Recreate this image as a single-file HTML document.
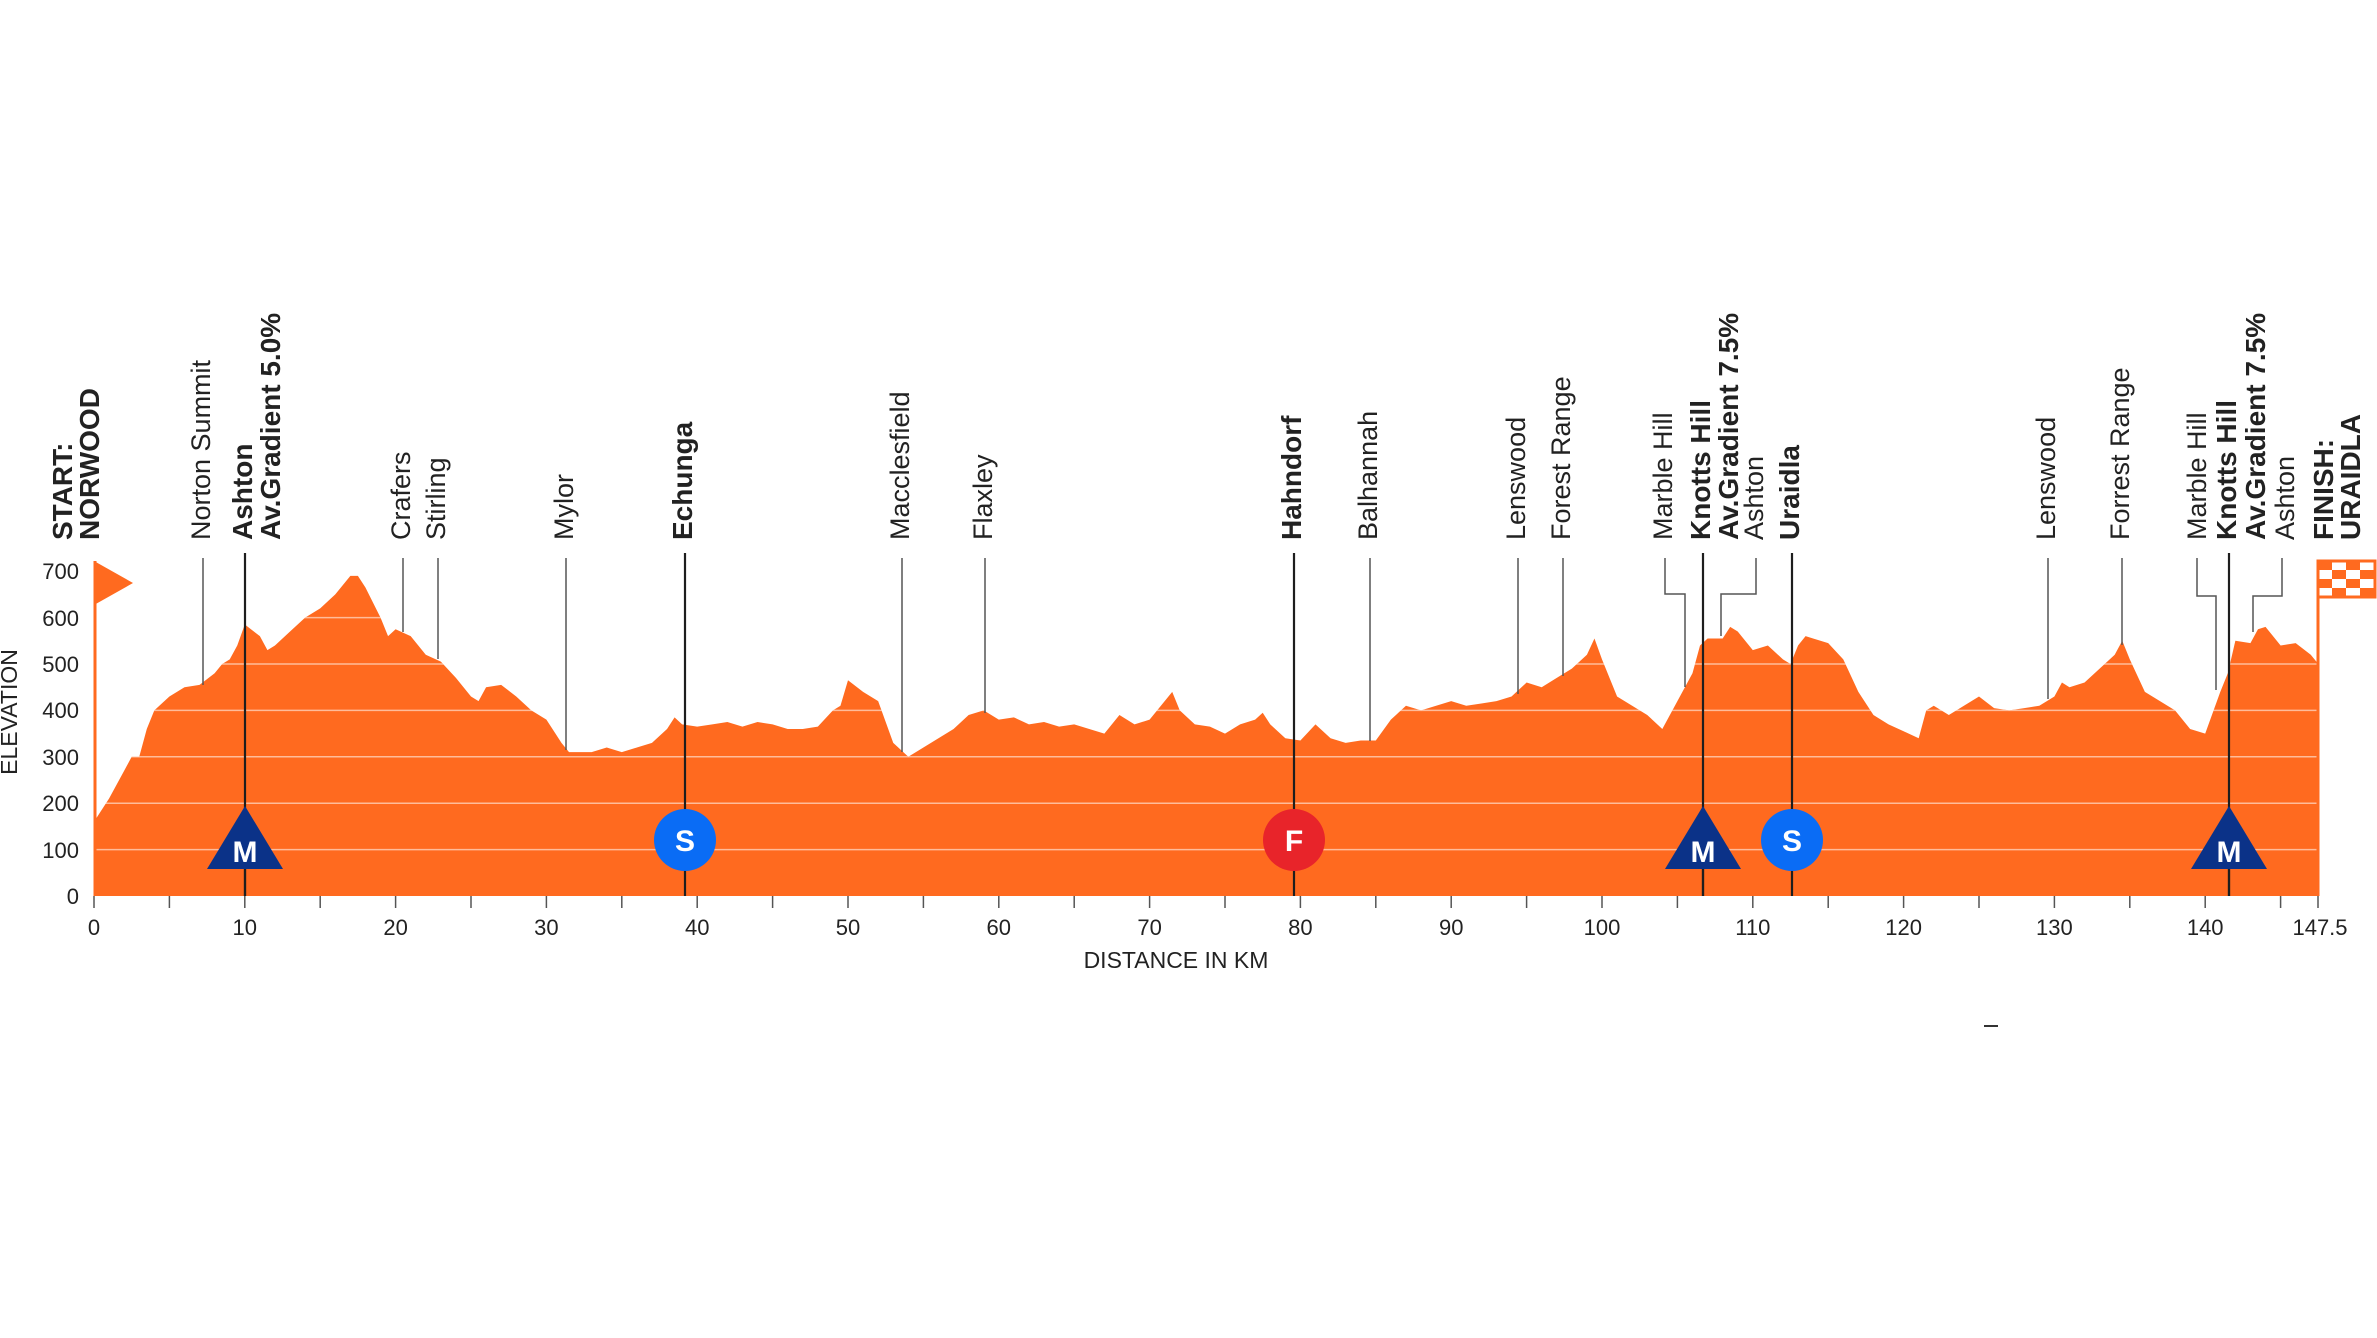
<!DOCTYPE html>
<html><head><meta charset="utf-8"><style>
html,body{margin:0;padding:0;background:#fff;}
svg{display:block;font-family:"Liberation Sans",Arial,sans-serif;}
</style></head><body>
<svg width="2377" height="1338" viewBox="0 0 2377 1338" xmlns="http://www.w3.org/2000/svg">
<defs>
<clipPath id="pc"><polygon transform="translate(94,896) scale(15.08,-0.464)" points="0,0 0,160 1,210 2,270 2.5,300 3,300 3.5,360 4,400 5,430 6,450 7,455 8,480 8.5,500 9,510 9.5,540 10,585 11,560 11.5,530 12,540 13,570 14,600 15,620 16,650 17,690 17.5,690 18,665 19,600 19.5,560 20,575 21,560 22,520 23,505 24,470 25,430 25.5,420 26,450 27,455 28,430 29,400 30,380 31,330 31.5,310 33,310 34,320 35,310 36,320 37,330 38,360 38.5,385 39,370 40,365 41,370 42,375 43,365 44,375 45,370 46,360 47,360 48,365 49,400 49.5,410 50,465 51,440 52,420 53,330 54,300 55,320 56,340 57,360 58,390 59,400 60,380 61,385 62,370 63,375 64,365 65,370 66,360 67,350 68,390 69,370 70,380 71,420 71.5,440 72,400 73,370 74,365 75,350 76,370 77,380 77.5,395 78,370 79,340 80,335 81,370 82,340 83,330 84,335 85,335 86,380 87,410 88,400 89,410 90,420 91,410 92,415 93,420 94,430 95,460 96,450 97,470 98,490 99,520 99.5,555 100,510 101,430 102,410 103,390 104,360 105,420 106,480 106.5,540 107,555 108,555 108.5,580 109,570 110,530 111,540 112,510 112.5,500 113,540 113.5,560 114,555 115,545 116,510 117,440 118,390 119,370 120,355 121,340 121.5,400 122,410 123,390 124,410 125,430 126,405 127,400 128,405 129,410 130,430 130.5,460 131,450 132,460 133,490 134,520 134.5,550 135,510 136,440 137,420 138,400 139,360 140,350 141,440 141.5,480 142,550 143,545 143.5,575 144,580 145,540 146,545 147,520 147.5,500 147.5,0"/></clipPath>
</defs>
<rect x="90" y="500" width="2240" height="400" fill="#ff6a1f" clip-path="url(#pc)"/>
<g clip-path="url(#pc)" stroke="rgba(255,255,255,0.55)" stroke-width="1.5">
<line x1="94" x2="2318" y1="849.6" y2="849.6"/><line x1="94" x2="2318" y1="803.2" y2="803.2"/>
<line x1="94" x2="2318" y1="756.8" y2="756.8"/><line x1="94" x2="2318" y1="710.4" y2="710.4"/>
<line x1="94" x2="2318" y1="664" y2="664"/><line x1="94" x2="2318" y1="617.6" y2="617.6"/>
</g>
<line x1="95" y1="561" x2="95" y2="896" stroke="#ff6a1f" stroke-width="3"/>
<polygon points="94,561 133,583 94,605" fill="#ff6a1f"/>
<line x1="2318" y1="561" x2="2318" y2="896" stroke="#ff6a1f" stroke-width="3"/>
<g>
<rect x="2318" y="561" width="57" height="36" fill="#fff" stroke="#ff6a1f" stroke-width="3"/>
<rect x="2318" y="561" width="14" height="9" fill="#ff6a1f"/><rect x="2346" y="561" width="14" height="9" fill="#ff6a1f"/>
<rect x="2332" y="570" width="14" height="9" fill="#ff6a1f"/><rect x="2360" y="570" width="15" height="9" fill="#ff6a1f"/>
<rect x="2318" y="579" width="14" height="9" fill="#ff6a1f"/><rect x="2346" y="579" width="14" height="9" fill="#ff6a1f"/>
<rect x="2332" y="588" width="14" height="9" fill="#ff6a1f"/><rect x="2360" y="588" width="15" height="9" fill="#ff6a1f"/>
</g>
<g stroke="#555" stroke-width="1.5">
<line x1="94" y1="896" x2="94" y2="908"/><line x1="169.4" y1="896" x2="169.4" y2="908"/><line x1="244.8" y1="896" x2="244.8" y2="908"/><line x1="320.2" y1="896" x2="320.2" y2="908"/><line x1="395.6" y1="896" x2="395.6" y2="908"/><line x1="471" y1="896" x2="471" y2="908"/><line x1="546.4" y1="896" x2="546.4" y2="908"/><line x1="621.8" y1="896" x2="621.8" y2="908"/><line x1="697.2" y1="896" x2="697.2" y2="908"/><line x1="772.6" y1="896" x2="772.6" y2="908"/><line x1="848" y1="896" x2="848" y2="908"/><line x1="923.4" y1="896" x2="923.4" y2="908"/><line x1="998.8" y1="896" x2="998.8" y2="908"/><line x1="1074.2" y1="896" x2="1074.2" y2="908"/><line x1="1149.6" y1="896" x2="1149.6" y2="908"/><line x1="1225" y1="896" x2="1225" y2="908"/><line x1="1300.4" y1="896" x2="1300.4" y2="908"/><line x1="1375.8" y1="896" x2="1375.8" y2="908"/><line x1="1451.2" y1="896" x2="1451.2" y2="908"/><line x1="1526.6" y1="896" x2="1526.6" y2="908"/><line x1="1602" y1="896" x2="1602" y2="908"/><line x1="1677.4" y1="896" x2="1677.4" y2="908"/><line x1="1752.8" y1="896" x2="1752.8" y2="908"/><line x1="1828.2" y1="896" x2="1828.2" y2="908"/><line x1="1903.6" y1="896" x2="1903.6" y2="908"/><line x1="1979" y1="896" x2="1979" y2="908"/><line x1="2054.4" y1="896" x2="2054.4" y2="908"/><line x1="2129.8" y1="896" x2="2129.8" y2="908"/><line x1="2205.2" y1="896" x2="2205.2" y2="908"/><line x1="2280.6" y1="896" x2="2280.6" y2="908"/><line x1="2318" y1="896" x2="2318" y2="908"/>
</g>
<g font-size="22" fill="#222" text-anchor="middle">
<text x="94" y="935">0</text><text x="244.8" y="935">10</text><text x="395.6" y="935">20</text><text x="546.4" y="935">30</text><text x="697.2" y="935">40</text><text x="848" y="935">50</text><text x="998.8" y="935">60</text><text x="1149.6" y="935">70</text><text x="1300.4" y="935">80</text><text x="1451.2" y="935">90</text><text x="1602" y="935">100</text><text x="1752.8" y="935">110</text><text x="1903.6" y="935">120</text><text x="2054.4" y="935">130</text><text x="2205.2" y="935">140</text><text x="2320" y="935">147.5</text>
<text x="1176" y="968" font-size="23">DISTANCE IN KM</text>
</g>
<g font-size="22" fill="#222" text-anchor="end">
<text x="79" y="904">0</text><text x="79" y="858">100</text><text x="79" y="811">200</text><text x="79" y="765">300</text><text x="79" y="718">400</text><text x="79" y="672">500</text><text x="79" y="626">600</text><text x="79" y="579">700</text>
</g>
<text transform="translate(17,712) rotate(-90)" font-size="23" fill="#222" text-anchor="middle">ELEVATION</text>
<g stroke="#555" stroke-width="1.5" fill="none">
<line x1="203" y1="558" x2="203" y2="685"/>
<line x1="403" y1="558" x2="403" y2="632"/>
<line x1="438" y1="558" x2="438" y2="659"/>
<line x1="566" y1="558" x2="566" y2="750"/>
<line x1="902" y1="558" x2="902" y2="752"/>
<line x1="985" y1="558" x2="985" y2="713"/>
<line x1="1370" y1="558" x2="1370" y2="741"/>
<line x1="1518" y1="558" x2="1518" y2="694"/>
<line x1="1563" y1="558" x2="1563" y2="676"/>
<polyline points="1665,558 1665,594 1685,594 1685,687"/>
<polyline points="1756,558 1756,594 1721,594 1721,636"/>
<line x1="2048" y1="558" x2="2048" y2="699"/>
<line x1="2122" y1="558" x2="2122" y2="645"/>
<polyline points="2197,558 2197,596 2216,596 2216,690"/>
<polyline points="2282,558 2282,596 2253,596 2253,632"/>
</g>
<g stroke="#1e1e1e" stroke-width="2.2">
<line x1="245" y1="553" x2="245" y2="896"/>
<line x1="685" y1="553" x2="685" y2="896"/>
<line x1="1294" y1="553" x2="1294" y2="896"/>
<line x1="1703" y1="553" x2="1703" y2="896"/>
<line x1="1792" y1="553" x2="1792" y2="896"/>
<line x1="2229" y1="553" x2="2229" y2="896"/>
</g>
<g>
<polygon points="245,806 283,869 207,869" fill="#0b3288"/>
<polygon points="1703,806 1741,869 1665,869" fill="#0b3288"/>
<polygon points="2229,806 2267,869 2191,869" fill="#0b3288"/>
<line x1="245" y1="869" x2="245" y2="896" stroke="#1e1e1e" stroke-width="2.2"/>
<line x1="1703" y1="869" x2="1703" y2="896" stroke="#1e1e1e" stroke-width="2.2"/>
<line x1="2229" y1="869" x2="2229" y2="896" stroke="#1e1e1e" stroke-width="2.2"/>
<ellipse cx="685" cy="840" rx="31" ry="31" fill="#0a6cf5"/>
<ellipse cx="1792" cy="840" rx="31" ry="31" fill="#0a6cf5"/>
<ellipse cx="1294" cy="840" rx="31" ry="31" fill="#e8242a"/>
<g font-weight="bold" fill="#fff" text-anchor="middle" font-size="30">
<text x="245" y="862">M</text><text x="1703" y="862">M</text><text x="2229" y="862">M</text>
<text x="685" y="851">S</text><text x="1792" y="851">S</text><text x="1294" y="851">F</text>
</g>
</g>
<g font-size="27" fill="#222">
<text transform="translate(210,540) rotate(-90)">Norton Summit</text>
<text transform="translate(410,540) rotate(-90)">Crafers</text>
<text transform="translate(445,540) rotate(-90)">Stirling</text>
<text transform="translate(573,540) rotate(-90)">Mylor</text>
<text transform="translate(909,540) rotate(-90)">Macclesfield</text>
<text transform="translate(992,540) rotate(-90)">Flaxley</text>
<text transform="translate(1377,540) rotate(-90)">Balhannah</text>
<text transform="translate(1525,540) rotate(-90)">Lenswood</text>
<text transform="translate(1570,540) rotate(-90)">Forest Range</text>
<text transform="translate(1672,540) rotate(-90)">Marble Hill</text>
<text transform="translate(1763,540) rotate(-90)">Ashton</text>
<text transform="translate(2055,540) rotate(-90)">Lenswood</text>
<text transform="translate(2129,540) rotate(-90)">Forrest Range</text>
<text transform="translate(2206,540) rotate(-90)">Marble Hill</text>
<text transform="translate(2294,540) rotate(-90)">Ashton</text>
</g>
<g font-size="28" font-weight="bold" fill="#222">
<text transform="translate(72,540) rotate(-90)">START:</text>
<text transform="translate(99,540) rotate(-90)">NORWOOD</text>
<text transform="translate(252,540) rotate(-90)">Ashton</text>
<text transform="translate(280,540) rotate(-90)">Av.Gradient 5.0%</text>
<text transform="translate(692,540) rotate(-90)">Echunga</text>
<text transform="translate(1301,540) rotate(-90)">Hahndorf</text>
<text transform="translate(1710,540) rotate(-90)">Knotts Hill</text>
<text transform="translate(1738,540) rotate(-90)">Av.Gradient 7.5%</text>
<text transform="translate(1799,540) rotate(-90)">Uraidla</text>
<text transform="translate(2236,540) rotate(-90)">Knotts Hill</text>
<text transform="translate(2265,540) rotate(-90)">Av.Gradient 7.5%</text>
<text transform="translate(2333,540) rotate(-90)">FINISH:</text>
<text transform="translate(2360,540) rotate(-90)">URAIDLA</text>
</g>
<line x1="1984" y1="1026" x2="1998" y2="1026" stroke="#333" stroke-width="2"/>
</svg>
</body></html>
